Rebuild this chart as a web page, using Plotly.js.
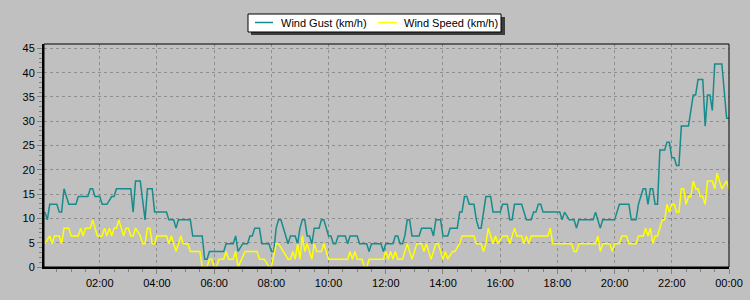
<!DOCTYPE html>
<html>
<head>
<meta charset="utf-8">
<script src="https://cdn.plot.ly/plotly-3.0.1.min.js"></script>
<style>
html,body{margin:0;padding:0;background:#c0c0c0;}
#chart{width:750px;height:300px;}
</style>
</head>
<body>
<div id="chart"></div>
<script>
const DAY = '2024-01-01';
const NEXT_DAY = '2024-01-02';
const seriesNames = ['Wind Gust (km/h)', 'Wind Speed (km/h)'];
const seriesColors = ['#168c8c', '#ffff00'];

const gustTimes = ["00:05","00:10","00:15","00:30","00:35","00:40","00:45","00:50","00:55","01:10","01:15","01:35","01:40","01:45","01:50","02:00","02:05","02:15","02:25","02:30","02:35","03:05","03:10","03:15","03:25","03:35","03:40","03:50","03:55","04:20","04:25","04:35","04:40","04:45","05:10","05:15","05:35","05:40","05:45","05:50","06:20","06:25","06:40","06:45","06:50","07:00","07:10","07:15","07:20","07:25","07:35","07:40","07:55","08:00","08:05","08:10","08:15","08:20","08:25","08:30","08:35","08:40","08:50","08:55","09:00","09:05","09:10","09:15","09:20","09:25","09:30","09:40","09:45","09:50","09:55","10:00","10:05","10:10","10:15","10:20","10:35","10:40","10:45","11:00","11:05","11:20","11:25","11:30","11:50","11:55","12:00","12:15","12:20","12:25","12:30","12:35","12:40","12:45","12:50","12:55","13:10","13:15","13:35","13:40","13:45","13:55","14:00","14:10","14:15","14:30","14:35","14:40","14:45","14:50","14:55","15:05","15:10","15:15","15:20","15:25","15:30","15:40","15:45","16:00","16:05","16:15","16:20","16:25","16:30","16:45","16:55","17:05","17:10","17:15","17:20","17:25","17:30","18:05","18:10","18:15","18:25","18:35","18:40","18:45","19:15","19:20","19:30","19:35","20:00","20:05","20:10","20:30","20:35","20:45","20:50","20:55","21:00","21:05","21:10","21:15","21:20","21:25","21:30","21:35","21:45","21:50","21:55","22:00","22:05","22:10","22:15","22:20","22:35","22:40","22:45","22:50","22:55","23:05","23:10","23:15","23:20","23:25","23:30","23:45","23:50","23:55","24:00"];
const gustValues = [11.3,9.7,12.9,12.9,11.3,11.3,16.1,14.5,12.9,12.9,14.5,14.5,16.1,16.1,14.5,14.5,12.9,12.9,14.5,14.5,16.1,16.1,11.3,17.7,17.7,9.7,16.1,16.1,11.3,11.3,9.7,9.7,8.0,9.7,9.7,6.4,6.4,1.6,1.6,3.2,3.2,4.8,4.8,6.4,3.2,4.8,4.8,6.4,6.4,8.0,8.0,4.8,4.8,3.2,3.2,8.0,9.7,9.7,8.0,6.4,4.8,6.4,6.4,4.8,8.0,9.7,9.7,6.4,6.4,4.8,8.0,8.0,9.7,9.7,8.0,6.4,6.4,4.8,4.8,6.4,6.4,4.8,6.4,6.4,4.8,4.8,3.2,4.8,4.8,3.2,4.8,4.8,6.4,6.4,4.8,4.8,6.4,9.7,9.7,6.4,6.4,8.0,8.0,6.4,9.7,9.7,6.4,6.4,8.0,8.0,11.3,11.3,14.5,14.5,12.9,12.9,9.7,8.0,8.0,11.3,14.5,14.5,11.3,11.3,12.9,12.9,9.7,9.7,12.9,12.9,9.7,9.7,11.3,11.3,12.9,12.9,11.3,11.3,9.7,11.3,9.7,9.7,8.0,9.7,9.7,11.3,8.0,9.7,9.7,11.3,12.9,12.9,9.7,9.7,12.9,14.5,16.1,16.1,12.9,16.1,16.1,12.9,12.9,24.1,24.1,25.7,25.7,22.5,22.5,20.9,20.9,29.0,29.0,32.2,35.4,35.4,38.6,38.6,29.0,35.4,35.4,32.2,41.8,41.8,35.4,30.6,30.6];

const speedTimes = ["00:05","00:15","00:20","00:25","00:35","00:40","00:45","00:55","01:00","01:15","01:20","01:25","01:30","01:40","01:45","01:55","02:05","02:10","02:15","02:20","02:25","02:30","02:35","02:40","02:50","02:55","03:00","03:05","03:10","03:15","03:25","03:30","03:35","03:40","03:45","03:50","03:55","04:00","04:20","04:25","04:30","04:40","04:50","04:55","05:05","05:10","05:30","05:35","05:45","05:50","05:55","06:00","06:05","06:10","06:20","06:25","06:30","06:40","06:45","06:50","07:05","07:30","07:35","07:45","07:55","08:00","08:10","08:15","08:25","08:35","08:40","08:45","08:50","08:55","09:00","09:05","09:10","09:15","09:20","09:25","09:30","09:35","09:45","09:50","09:55","10:00","10:40","10:45","10:50","10:55","11:00","11:10","11:15","11:20","11:25","11:55","12:00","12:05","12:10","12:15","12:20","12:25","12:35","12:40","12:45","12:50","12:55","13:00","13:05","13:15","13:20","13:25","13:35","13:40","13:45","13:50","13:55","14:00","14:05","14:10","14:20","14:25","14:35","14:40","15:05","15:10","15:20","15:25","15:30","15:35","15:40","15:45","15:50","15:55","16:05","16:15","16:20","16:25","16:30","16:35","16:45","16:50","16:55","17:00","17:05","17:40","17:45","17:50","18:30","18:35","18:40","18:45","19:20","19:25","19:30","19:35","19:50","19:55","20:00","20:10","20:15","20:25","20:30","20:45","20:50","21:00","21:05","21:10","21:15","21:20","21:25","21:30","21:35","21:40","21:45","21:50","21:55","22:00","22:05","22:10","22:15","22:20","22:25","22:30","22:35","22:40","22:45","22:50","22:55","23:00","23:05","23:10","23:15","23:25","23:30","23:35","23:45","23:55","24:00"];
const speedValues = [4.8,6.4,4.8,6.4,6.4,4.8,8.0,8.0,6.4,6.4,8.0,6.4,8.0,8.0,9.7,6.4,6.4,8.0,6.4,8.0,6.4,8.0,8.0,9.7,6.4,8.0,8.0,6.4,6.4,8.0,6.4,4.8,4.8,8.0,8.0,4.8,4.8,6.4,6.4,4.8,6.4,3.2,6.4,4.8,4.8,3.2,3.2,0,0,1.6,1.6,0,0,1.6,1.6,3.2,1.6,1.6,3.2,0,3.2,3.2,1.6,1.6,0,0,4.8,4.8,3.2,1.6,1.6,3.2,1.6,4.8,1.6,6.4,3.2,4.8,3.2,1.6,4.8,3.2,3.2,4.8,3.2,1.6,1.6,3.2,1.6,3.2,1.6,1.6,0,0,1.6,1.6,3.2,1.6,3.2,1.6,3.2,1.6,1.6,3.2,4.8,3.2,1.6,3.2,4.8,4.8,3.2,4.8,1.6,3.2,4.8,4.8,3.2,1.6,3.2,1.6,3.2,3.2,4.8,6.4,6.4,4.8,4.8,3.2,4.8,8.0,6.4,4.8,6.4,4.8,6.4,6.4,4.8,6.4,8.0,6.4,6.4,4.8,6.4,4.8,6.4,6.4,8.0,4.8,4.8,3.2,3.2,4.8,4.8,6.4,3.2,4.8,4.8,3.2,4.8,4.8,6.4,6.4,4.8,4.8,6.4,6.4,8.0,6.4,8.0,4.8,6.4,6.4,8.0,9.7,9.7,12.9,11.3,12.9,12.9,11.3,11.3,16.1,16.1,12.9,14.5,14.5,17.7,16.1,16.1,14.5,14.5,12.9,17.7,17.7,16.1,19.3,16.1,17.7,16.1];

const xRange = ['00:03', '24:00'];
const yRange = [0, 45.9];

function toDate(t) {
  return t === '24:00' ? NEXT_DAY + ' 00:00' : DAY + ' ' + t;
}

const traces = [
  {
    x: gustTimes.map(toDate), y: gustValues, name: seriesNames[0],
    type: 'scatter', mode: 'lines',
    line: {color: seriesColors[0], width: 1.5}
  },
  {
    x: speedTimes.map(toDate), y: speedValues, name: seriesNames[1],
    type: 'scatter', mode: 'lines',
    line: {color: seriesColors[1], width: 1.5}
  }
];

const W = 750, H = 300, ML = 44, MR = 21, MT = 44, MB = 33;
const pw = W - ML - MR, ph = H - MT - MB;
const px2x = p => (p - ML) / pw;
const px2y = p => (H - MB - p) / ph;

const FONT = 'Liberation Sans, Arial, sans-serif';

const axisCommon = {
  ticks: 'outside', ticklen: 5, tickwidth: 1, tickcolor: '#808080',
  showgrid: true, gridcolor: '#8e8e8e', griddash: 'dot', gridwidth: 1,
  showline: true, linecolor: '#000', linewidth: 2,
  zeroline: false, fixedrange: true,
  tickfont: {family: FONT, size: 11, color: '#000'}
};

// Legend drawn as a boxed key above the plot (box, drop shadow, line samples, labels)
const legendBox = {left: 248, right: 501, top: 14, bottom: 32, mid: 22.5};
const legendItems = [
  {lineFrom: 255, lineTo: 273, textAt: 280},
  {lineFrom: 378, lineTo: 397, textAt: 403}
];

const shapes = [
  {type: 'rect', xref: 'paper', yref: 'paper',
   x0: px2x(legendBox.left + 3), x1: px2x(legendBox.right + 4),
   y0: px2y(legendBox.top + 3), y1: px2y(legendBox.bottom + 3),
   fillcolor: '#3c3c3c', line: {width: 0}},
  {type: 'rect', xref: 'paper', yref: 'paper',
   x0: px2x(legendBox.left), x1: px2x(legendBox.right),
   y0: px2y(legendBox.top), y1: px2y(legendBox.bottom),
   fillcolor: '#ffffff', line: {color: '#000', width: 1}},
  {type: 'rect', xref: 'paper', yref: 'paper',
   x0: 0, x1: 1, y0: 0, y1: 1, line: {color: '#000', width: 1}}
];
const annotations = [];
legendItems.forEach((it, i) => {
  shapes.push({type: 'line', xref: 'paper', yref: 'paper',
    x0: px2x(it.lineFrom), x1: px2x(it.lineTo),
    y0: px2y(legendBox.mid), y1: px2y(legendBox.mid),
    line: {color: seriesColors[i], width: 1.5}});
  annotations.push({xref: 'paper', yref: 'paper', x: px2x(it.textAt), y: px2y(legendBox.mid),
    xanchor: 'left', yanchor: 'middle', showarrow: false, text: seriesNames[i],
    font: {family: FONT, size: 11, color: '#000'}, borderpad: 0});
});

const layout = {
  width: W, height: H,
  margin: {l: ML, r: MR, t: MT, b: MB, pad: 0},
  paper_bgcolor: '#c0c0c0', plot_bgcolor: '#c0c0c0',
  font: {family: FONT, size: 11, color: '#000'},
  showlegend: false,
  xaxis: Object.assign({}, axisCommon, {
    type: 'date', range: xRange.map(toDate),
    tick0: DAY + ' 00:00', dtick: 7200000, tickformat: '%H:%M',
    minor: {dtick: 1800000, ticks: 'outside', ticklen: 3, tickcolor: '#808080', showgrid: false}
  }),
  yaxis: Object.assign({}, axisCommon, {
    range: yRange, tick0: 0, dtick: 5,
    minor: {dtick: 1, ticks: 'outside', ticklen: 3, tickcolor: '#808080', showgrid: false}
  }),
  shapes: shapes,
  annotations: annotations
};

Plotly.newPlot('chart', traces, layout, {displayModeBar: false, staticPlot: true});
</script>
</body>
</html>
